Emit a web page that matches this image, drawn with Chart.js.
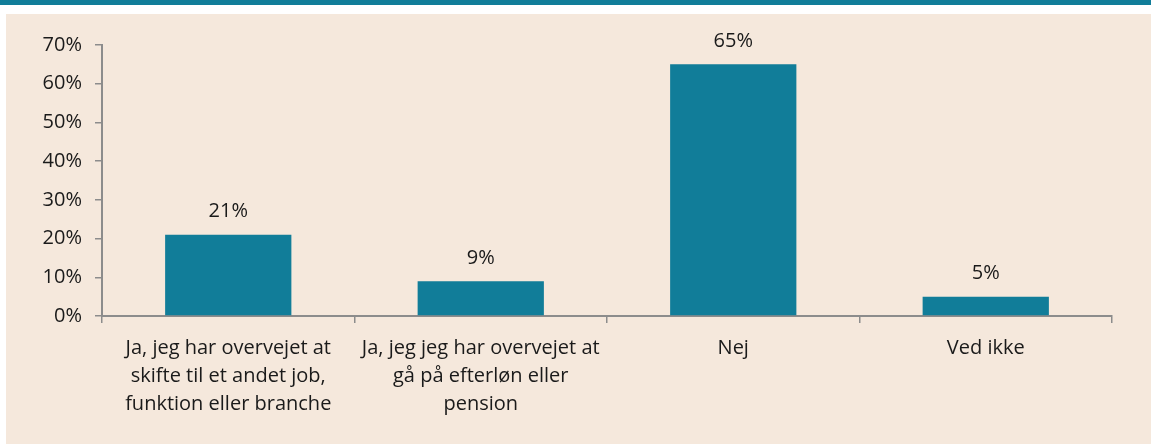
<!DOCTYPE html>
<html>
<head>
<meta charset="utf-8">
<script src="https://cdn.jsdelivr.net/npm/chart.js@4"></script>
<style>
  html, body { margin: 0; padding: 0; background: #ffffff; }
  #topbar { position: absolute; left: 0; top: 0; width: 1151px; height: 5px; background: #117d99; }
  #panel { position: absolute; left: 6px; top: 14px; width: 1145px; height: 430px; background: #f5e8dc; }
  #wrap { position: absolute; left: 0; top: 0; width: 1145px; height: 430px; }
</style>
</head>
<body>
<div id="topbar"></div>
<div id="panel">
  <div id="wrap"><canvas id="chart"></canvas></div>
</div>
<script>
const categories = [
  ["Ja, jeg har overvejet at", "skifte til et andet job,", "funktion eller branche"],
  ["Ja, jeg jeg har overvejet at", "gå på efterløn eller", "pension"],
  "Nej",
  "Ved ikke",
];
const shares = [21, 9, 65, 5];
const yTicks = [0, 10, 20, 30, 40, 50, 60, 70];

const teal = "#117d99";
const axisGrey = "#8c8c8c";
const textColor = "#1a1a1a";
const fontFamily = "'Open Sans', 'Noto Sans', sans-serif";

// writes the value above each bar
const valueLabels = {
  id: "valueLabels",
  afterDatasetsDraw(chart) {
    const ctx = chart.ctx;
    const meta = chart.getDatasetMeta(0);
    ctx.save();
    ctx.font = "20px " + fontFamily;
    ctx.fillStyle = textColor;
    ctx.textAlign = "center";
    ctx.textBaseline = "middle";
    meta.data.forEach((bar, i) => {
      ctx.fillText(shares[i] + "%", bar.x, bar.y - 23);
    });
    ctx.restore();
  },
};

const ctx = document.getElementById("chart").getContext("2d");
const chart = new Chart(ctx, {
  type: "bar",
  data: {
    labels: categories,
    datasets: [
      {
        data: shares,
        backgroundColor: teal,
        borderWidth: 0,
        categoryPercentage: 1,
        barPercentage: 0.5,
      },
    ],
  },
  options: {
    responsive: true,
    maintainAspectRatio: false,
    animation: false,
    layout: { padding: { left: 0, right: 39, top: 31, bottom: 0 } },
    plugins: {
      legend: { display: false },
      tooltip: { enabled: false },
    },
    scales: {
      x: {
        grid: {
          offset: true,
          drawOnChartArea: false,
          drawTicks: true,
          tickLength: 7,
          color: axisGrey,
          lineWidth: 1.5,
        },
        border: { color: axisGrey, width: 2 },
        ticks: {
          color: textColor,
          padding: 11,
          maxRotation: 0,
          autoSkip: false,
          font: { family: fontFamily, size: 20, lineHeight: 1.4 },
        },
        afterFit(scale) {
          scale.height = 128;
        },
      },
      y: {
        min: 0,
        max: 70,
        afterBuildTicks(scale) {
          scale.ticks = yTicks.map((v) => ({ value: v }));
        },
        grid: {
          drawOnChartArea: false,
          drawTicks: true,
          tickLength: 7,
          color: axisGrey,
          lineWidth: 1.5,
        },
        border: { color: axisGrey, width: 2 },
        ticks: {
          color: textColor,
          padding: 13,
          font: { family: fontFamily, size: 20 },
          callback: (v) => v + "%",
        },
        afterFit(scale) {
          scale.width = 96;
        },
      },
    },
  },
  plugins: [valueLabels],
});
</script>
</body>
</html>
